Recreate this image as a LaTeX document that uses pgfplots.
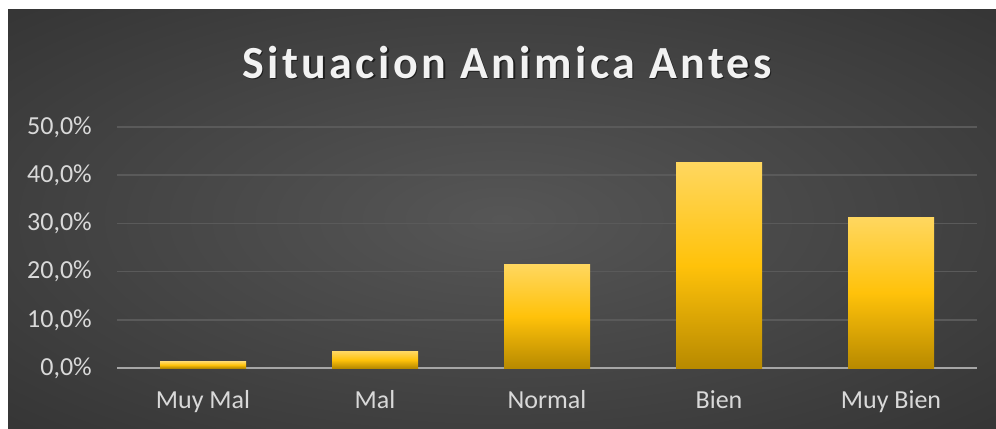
\documentclass[border=0pt]{standalone}
\usepackage{pgfplots}
\pgfplotsset{compat=1.18}
\usepackage{fontspec}
\setmainfont{Carlito}
\definecolor{gridgray}{RGB}{90,90,90}
\definecolor{axisgray}{RGB}{166,166,166}
\definecolor{ticktext}{RGB}{217,217,217}
\definecolor{titletext}{RGB}{242,242,242}
\definecolor{bartop}{RGB}{255,215,95}
\definecolor{barmid}{RGB}{255,194,10}
\definecolor{barbot}{RGB}{184,138,0}
\pgfdeclareradialshading{bgshade}{\pgfpoint{0bp}{0bp}}{%
  color(0bp)=(rgb,255:red,86;green,86;blue,86);
  color(50bp)=(rgb,255:red,40;green,40;blue,40);
  color(75bp)=(rgb,255:red,34;green,34;blue,34)}
\begin{document}
\begin{tikzpicture}[x=1bp,y=1bp]
\fill[white] (0,0) rectangle (996,428);
\shade[shading=bgshade] (8,0) rectangle (996,418);
\node[anchor=base, text=black, opacity=0.55, inner sep=0pt] at (508.5,348.5)
  {\fontsize{46bp}{50bp}\selectfont\bfseries\addfontfeatures{LetterSpace=7.5}Situacion Animica Antes};
\node[anchor=base, text=titletext, inner sep=0pt] at (507,350)
  {\fontsize{46bp}{50bp}\selectfont\bfseries\addfontfeatures{LetterSpace=7.5}Situacion Animica Antes};
\begin{axis}[
  at={(117bp,60bp)}, anchor=south west,
  scale only axis, width=860bp, height=241bp,
  xmin=-0.5, xmax=4.5, ymin=0, ymax=50,
  axis x line*=bottom, axis y line*=left,
  x axis line style={draw=axisgray, line width=2bp, -},
  y axis line style={draw=none},
  major tick length=0pt,
  ymajorgrids, grid style={draw=gridgray, line width=1.5bp},
  ytick={0,10,20,30,40,50},
  yticklabels={{0,0\%},{10,0\%},{20,0\%},{30,0\%},{40,0\%},{50,0\%}},
  xtick={0,1,2,3,4},
  xticklabels={Muy Mal,Mal,Normal,Bien,Muy Bien},
  tick label style={font=\fontsize{26bp}{30bp}\selectfont, text=ticktext},
  yticklabel style={inner sep=0pt, xshift=-25bp},
  xticklabel style={inner sep=0pt, anchor=north, yshift=-22bp},
  ybar, bar width=86bp, bar shift=0pt,
  every axis plot/.append style={draw=none, top color=bartop, bottom color=barbot, middle color=barmid},
]
\addplot coordinates {(0,1.3)};
\addplot coordinates {(1,3.4)};
\addplot coordinates {(2,21.5)};
\addplot coordinates {(3,42.6)};
\addplot coordinates {(4,31.2)};
\end{axis}
\end{tikzpicture}
\end{document}
